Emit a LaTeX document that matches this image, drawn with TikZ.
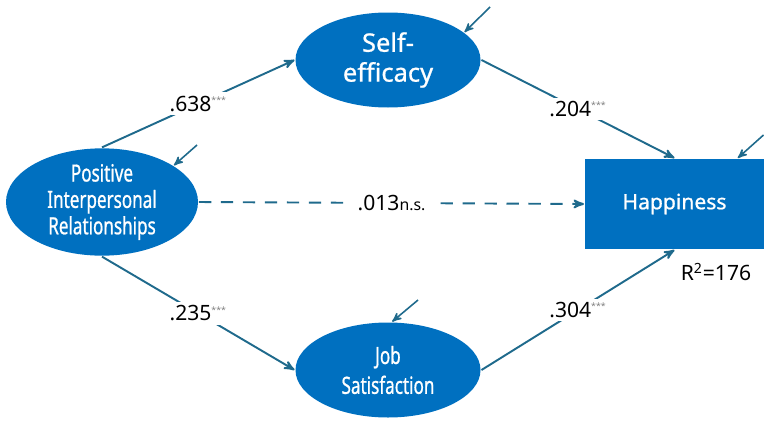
\documentclass[tikz,border=0pt]{standalone}
\usepackage{fontspec}
\setmainfont{Noto Sans}
\newfontfamily\narrowfont[FakeStretch=0.72,FakeBold=0.8]{Noto Sans}
\newfontfamily\boxfont[FakeBold=0.8]{Noto Sans}
\usepackage{xcolor}
\usepackage{tikz}
\usetikzlibrary{
    arrows,
    shapes.geometric
}
\definecolor{boxblue}{RGB}{0,112,192}
\definecolor{pathblue}{RGB}{31,106,140}
\newcommand{\stars}{\textsuperscript{\color{gray}\tiny ***}}

\begin{document}
\begin{tikzpicture}[->,>=stealth',line width=1.1pt,font=\large]
    \tikzstyle{latent}=[shape=ellipse, fill=boxblue, text=white, align=center,
        minimum width=3.7cm, minimum height=1.9cm, inner sep=0pt]
    \tikzstyle{observed}=[shape=rectangle, fill=boxblue, text=white,
        minimum width=3.58cm, minimum height=1.8cm, font=\large\boxfont]
    \tikzstyle{coef}=[fill=white, text=black, inner sep=2pt]
    \tikzstyle{link}=[draw=pathblue]
    \tikzstyle{err}=[draw=pathblue, line width=0.9pt]
    \useasboundingbox (0, 0) rectangle (15.28, 8.42);
    \node[latent, minimum width=3.84cm, minimum height=1.88cm, font=\fontsize{13.5}{15}\narrowfont] (pir) at (2.04, 4.38){Positive\\Interpersonal\\Relationships};
    \node[latent, font=\fontsize{14.5}{17}\boxfont] (self) at (7.76, 7.22){Self-\\efficacy};
    \node[latent, font=\fontsize{13.5}{17}\narrowfont] (job) at (7.76, 1.02){Job\\Satisfaction};
    \node[observed] (hap) at (13.49, 4.34){Happiness};
    \node (r2) at (14.32, 2.98){R\textsuperscript{2}=176};
    \coordinate (eself) at (9.80, 8.28);
    \coordinate (epir) at (3.94, 5.52);
    \coordinate (ejob) at (8.36, 2.42);
    \coordinate (ehap) at (15.27, 5.72);
    \path (pir.north) edge[link] node[coef]{.638\stars} (self.west);
    \path (self.east) edge[link] node[coef]{.204\stars} (hap.north);
    \path (pir.south) edge[link] node[coef]{.235\stars} (job.west);
    \path (job.east) edge[link] node[coef]{.304\stars} (hap.south);
    \path (pir.east) edge[link, dash pattern=on 7pt off 5.5pt] node[coef, inner sep=4pt]{.013{\small n.s.}} (hap.west);
    \path (eself) edge[err] (self.20);
    \path (epir) edge[err] (pir.27);
    \path (ejob) edge[err] (job.85);
    \path (ehap) edge[err] (hap.36);
\end{tikzpicture}
\end{document}
